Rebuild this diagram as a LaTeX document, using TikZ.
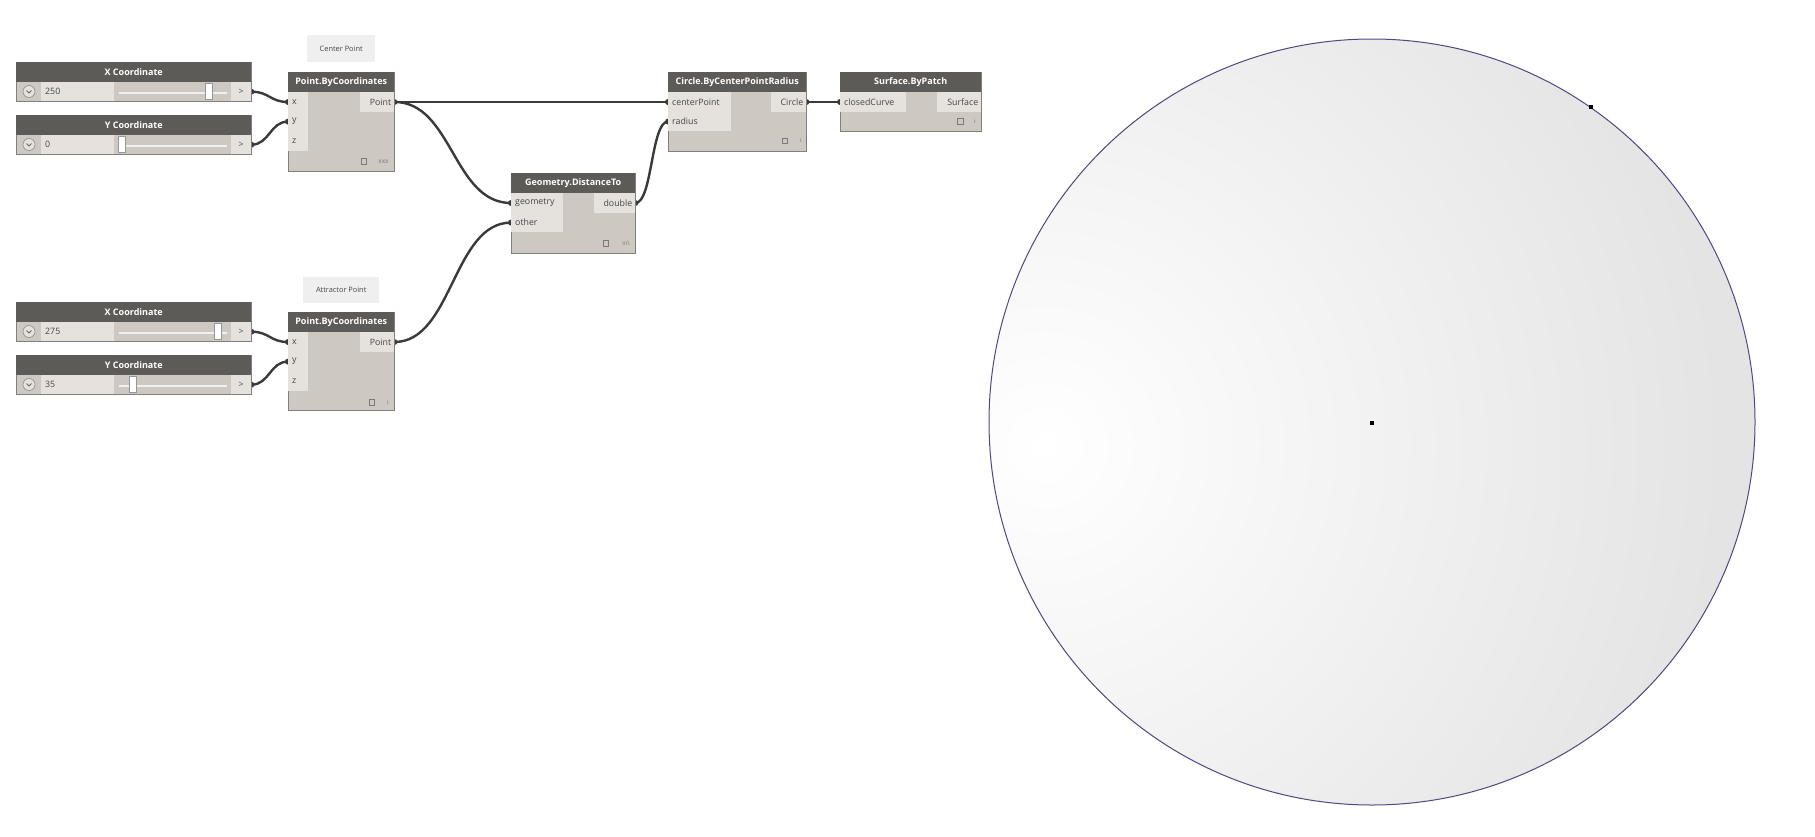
\documentclass[tikz,border=0pt]{standalone}
\usepackage{fontspec}
\setmainfont{Open Sans}
\pgfdeclarelayer{bg}
\pgfsetlayers{bg,main}
\definecolor{hdrc}{RGB}{93,91,88}
\definecolor{bodyc}{RGB}{205,200,193}
\definecolor{portc}{RGB}{229,226,221}
\definecolor{bordc}{RGB}{130,128,124}
\definecolor{txtc}{RGB}{70,70,70}
\definecolor{wirec}{RGB}{58,58,58}
\definecolor{notec}{RGB}{239,239,239}
\definecolor{rimc}{RGB}{80,72,128}
\definecolor{chevc}{RGB}{150,146,140}
\definecolor{trackc}{RGB}{240,240,240}
\definecolor{thumbc}{RGB}{150,150,150}
\definecolor{arrc}{RGB}{70,80,110}
\definecolor{chkc}{RGB}{125,122,118}
\definecolor{discc}{RGB}{228,228,228}
\newcommand\hdrfont{\fontsize{9}{10}\selectfont\bfseries}
\newcommand\portfont{\fontsize{8.8}{10}\selectfont}
\newcommand\ftfont{\fontsize{6.5}{7}\selectfont}
\newcommand\notefont{\fontsize{7.4}{9}\selectfont}
\tikzset{
 nframe/.style={draw=bordc, fill=bodyc, line width=0.8, inner sep=0, anchor=north west},
 hdr/.style={fill=hdrc, text=white, font=\hdrfont, inner sep=0, anchor=north west},
 pbox/.style={fill=portc, inner sep=0, anchor=north west},
 ptxt/.style={text=txtc, font=\portfont, inner sep=0},
 chev/.style={circle, draw=chevc, fill=portc, minimum size=12, inner sep=0, line width=0.7},
 chevline/.style={draw=chevc!70!black, line width=0.8},
 track/.style={draw=trackc, line width=2},
 thumb/.style={draw=thumbc, fill=white, minimum width=7, minimum height=16, inner sep=0, line width=0.7},
 arrtxt/.style={text=arrc, font=\portfont, inner sep=0},
 chk/.style={draw=chkc, minimum size=5.5, inner sep=0, line width=0.6},
 ftxt/.style={text=chkc, font=\ftfont, inner sep=0},
 note/.style={fill=notec, text=txtc, font=\notefont, inner sep=0, anchor=north west},
 wire/.style={draw=wirec, line width=2.4},
 knob/.style={fill=wirec}
}
\newcommand\SliderBox[5]{%
 \node[nframe, minimum width=235, minimum height=39] (#1) at (16,#2) {};
 \node[hdr, minimum width=235, minimum height=20] (#1h) at (16,#2) {#3};
 \node[pbox, minimum width=73, minimum height=19] (#1v) at (41,{#2+20}) {};
 \node[ptxt, anchor=west] (#1t) at ([xshift=4]#1v.west) {#4};
 \node[chev] (#1c) at (29,{#2+29.5}) {};
 \draw[chevline] (#1c.center) ++(-2.5,-1) -- ++(2.5,2.5) -- ++(2.5,-2.5);
 \draw[track] (119,{#2+30.5}) -- (227,{#2+30.5});
 \node[thumb] (#1m) at (#5,{#2+29.5}) {};
 \node[pbox, minimum width=20, minimum height=19] (#1a) at (231,{#2+20}) {};
 \node[arrtxt] (#1at) at (#1a.center) {>};
}
\newcommand\InBox[5]{% name, x, y, width, label
 \node[pbox, minimum width=#4, minimum height=19.6] (#1) at (#2,#3) {};
 \node[ptxt, anchor=west] (#1t) at ([xshift=4]#1.west) {#5};
}
\newcommand\OutBox[5]{% name, x, y, width, label
 \node[pbox, minimum width=#4, minimum height=19.6] (#1) at (#2,#3) {};
 \node[ptxt, anchor=east] (#1t) at ([xshift=-3]#1.east) {#5};
}
\newcommand\Footer[5]{% name, check x, y, text x, text
 \node[chk] (#1k) at (#2,#3) {};
 \node[ftxt] (#1l) at (#4,#3) {#5};
}
\begin{document}
\begin{tikzpicture}[x=1pt,y=-1pt]
\useasboundingbox (0,0) rectangle (1815,836);
\begin{pgfonlayer}{bg}
\fill[white] (0,0) rectangle (1815,836);
\end{pgfonlayer}

% ---- 3D preview: surface disc ----
\begin{scope}
\clip (1372,422) circle (383);
\fill[discc] (1372,422) circle (390);
\shade[inner color=white, outer color=discc] (1045,445) circle (680);
\end{scope}
\draw[rimc, line width=1] (1372,422) circle (383);
\fill[black] (1370,421) rectangle (1374,425);
\fill[black] (1589,105) rectangle (1593,109);

% ---- notes ----
\node[note, minimum width=68, minimum height=27] (n1) at (307,35) {Center Point};
\node[note, minimum width=76, minimum height=26] (n2) at (303,277) {Attractor Point};

% ---- sliders ----
\SliderBox{sxa}{62}{X Coordinate}{250}{209}
\SliderBox{sya}{115}{Y Coordinate}{0}{122}
\SliderBox{sxb}{302}{X Coordinate}{275}{217.5}
\SliderBox{syb}{355}{Y Coordinate}{35}{132.5}

% ---- Point.ByCoordinates (top) ----
\node[nframe, minimum width=106, minimum height=99] (pa) at (288,72) {};
\node[hdr, minimum width=106, minimum height=20] (pah) at (288,72) {Point.ByCoordinates};
\InBox{pax}{288}{92}{20}{x}
\InBox{pay}{288}{111.6}{20}{y}
\InBox{paz}{288}{131.2}{20}{z}
\OutBox{pao}{360}{92}{34}{Point}
\Footer{paf}{364}{161.5}{383.5}{xxx}

% ---- Point.ByCoordinates (bottom) ----
\node[nframe, minimum width=106, minimum height=98] (pb) at (288,312) {};
\node[hdr, minimum width=106, minimum height=20] (pbh) at (288,312) {Point.ByCoordinates};
\InBox{pbx}{288}{332}{20}{x}
\InBox{pby}{288}{351.6}{20}{y}
\InBox{pbz}{288}{371.2}{20}{z}
\OutBox{pbo}{360}{332}{34}{Point}
\Footer{pbf}{372}{402.5}{388}{ı}

% ---- Geometry.DistanceTo ----
\node[nframe, minimum width=124, minimum height=80] (gd) at (511,173) {};
\node[hdr, minimum width=124, minimum height=20] (gdh) at (511,173) {Geometry.DistanceTo};
\InBox{gdg}{511}{193}{52}{geometry}
\InBox{gdt}{511}{212.6}{52}{other}
\OutBox{gdo}{594}{193}{41}{double}
\Footer{gdf}{606}{243.5}{626}{ııı\textbackslash}

% ---- Circle.ByCenterPointRadius ----
\node[nframe, minimum width=138, minimum height=79] (cb) at (668,72) {};
\node[hdr, minimum width=138, minimum height=20] (cbh) at (668,72) {Circle.ByCenterPointRadius};
\InBox{cbc}{668}{92}{63}{centerPoint}
\InBox{cbr}{668}{111.6}{63}{radius}
\OutBox{cbo}{771}{92}{35}{Circle}
\Footer{cbf}{785}{141}{801}{ı}

% ---- Surface.ByPatch ----
\node[nframe, minimum width=141, minimum height=59] (sp) at (840,72) {};
\node[hdr, minimum width=141, minimum height=20] (sph) at (840,72) {Surface.ByPatch};
\InBox{spc}{840}{92}{66}{closedCurve}
\OutBox{spo}{937}{92}{44}{Surface}
\Footer{spf}{960.5}{121.5}{975}{ı}

% ---- wires ----
\begin{pgfonlayer}{bg}
\draw[wire] (sxaa.east) .. controls +(18,0) and +(-18,0) .. (pax.west);
\draw[wire] (syaa.east) .. controls +(18,0) and +(-18,0) .. (pay.west);
\draw[wire] (sxba.east) .. controls +(18,0) and +(-18,0) .. (pbx.west);
\draw[wire] (syba.east) .. controls +(18,0) and +(-18,0) .. (pby.west);
\draw[wire] (pao.east) .. controls +(120,0) and +(-120,0) .. (cbc.west);
\draw[wire] (pao.east) .. controls +(58,0) and +(-58,0) .. (gdg.west);
\draw[wire] (pbo.east) .. controls +(58,0) and +(-58,0) .. (gdt.west);
\draw[wire] (gdo.east) .. controls +(17,0) and +(-17,0) .. (cbr.west);
\draw[wire] (cbo.east) .. controls +(15,0) and +(-15,0) .. (spc.west);
\foreach \p in {sxaa.east, syaa.east, sxba.east, syba.east, pax.west, pay.west, pbx.west, pby.west, pao.east, pbo.east, gdg.west, gdt.west, gdo.east, cbc.west, cbr.west, cbo.east, spc.west}
  \fill[knob] (\p) circle (3);
\end{pgfonlayer}
\end{tikzpicture}
\end{document}
